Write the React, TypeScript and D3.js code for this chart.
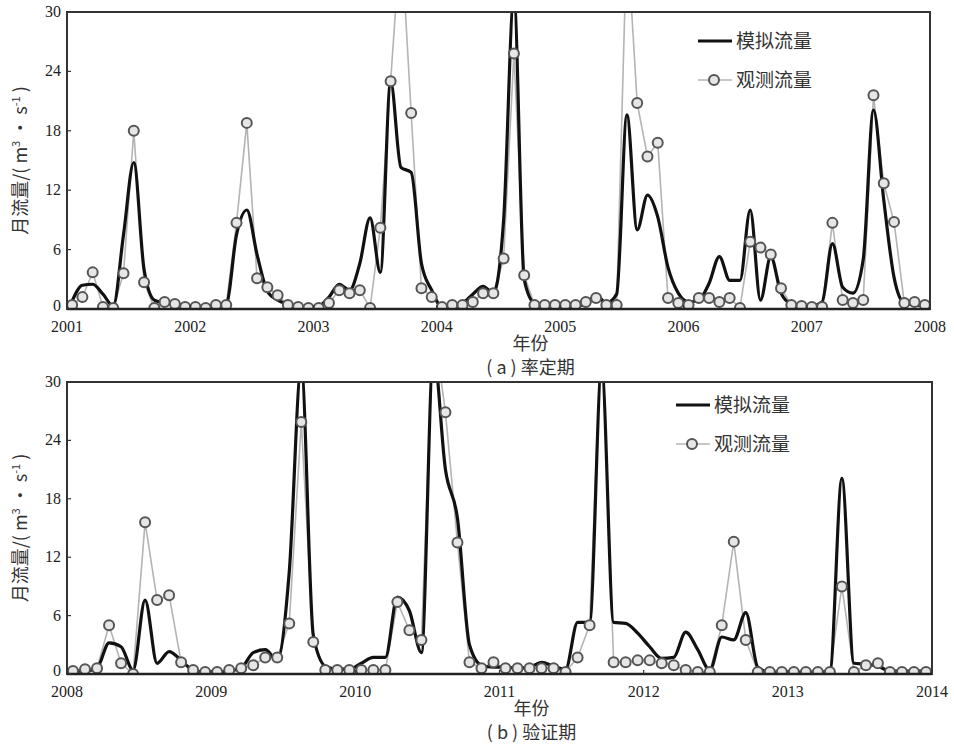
import React, { useEffect, useRef } from 'react';
import * as d3 from 'd3';

// y axis ticks shared by both panels
const yTicks = [0, 6, 12, 18, 24, 30];

// (a) calibration 2001-2007, monthly
const yearsA = [2001, 2002, 2003, 2004, 2005, 2006, 2007, 2008];
const simA = [
  0.8, 2.4, 2.5, 1.5, 0.3, 7.5, 14.8, 4.0, 0.9, 0.6, 0.5, 0.3,
  0.3, 0.2, 0.3, 0.5, 7.5, 10.0, 5.5, 1.8, 0.9, 0.5, 0.3, 0.2,
  0.3, 1.2, 2.5, 1.9, 4.6, 9.2, 3.7, 23.0, 14.3, 13.8, 4.6, 1.9,
  0.2, 0.4, 0.6, 1.5, 2.3, 1.6, 9.0, 31.5, 3.0, 0.6, 0.4, 0.3,
  0.3, 0.3, 0.5, 1.4, 0.6, 1.5, 19.6, 8.0, 11.5, 9.3, 4.2, 1.6,
  0.7, 0.9, 2.6, 5.3, 2.9, 2.9, 10.0, 0.9, 5.3, 1.6, 0.5, 0.3,
  0.3, 0.7, 6.6, 2.2, 1.6, 5.0, 20.1, 11.0, 3.2, 0.6, 0.4, 0.3,
];
const obsA = [
  0.4, 1.2, 3.7, 0.2, 0.1, 3.6, 18.0, 2.7, 0.1, 0.7, 0.5, 0.2,
  0.2, 0.1, 0.4, 0.4, 8.7, 18.8, 3.1, 2.2, 1.4, 0.4, 0.2, 0.1,
  0.1, 0.6, 1.9, 1.6, 1.9, 0.1, 8.2, 23.0, 38.0, 19.8, 2.1, 1.2,
  0.2, 0.4, 0.4, 0.7, 1.6, 1.6, 5.1, 25.8, 3.4, 0.4, 0.4, 0.4,
  0.4, 0.4, 0.7, 1.1, 0.4, 0.4, 38.0, 20.8, 15.4, 16.8, 1.1, 0.6,
  0.4, 1.1, 1.1, 0.7, 1.1, 0.1, 6.8, 6.2, 5.5, 2.1, 0.4, 0.3,
  0.2, 0.2, 8.7, 0.9, 0.6, 0.9, 21.6, 12.7, 8.8, 0.6, 0.7, 0.4,
];

// (b) validation 2008-2013, monthly
const yearsB = [2008, 2009, 2010, 2011, 2012, 2013, 2014];
const simB = [
  0.3, 0.3, 0.6, 3.2, 2.8, 0.4, 7.6, 1.1, 2.3, 1.4, 0.4, 0.2,
  0.2, 0.3, 0.6, 2.2, 2.5, 1.4, 10.5, 31.5, 4.0, 0.8, 0.5, 0.5,
  1.1, 1.7, 1.7, 7.9, 6.5, 2.2, 33.0, 21.0, 16.0, 3.0, 0.9, 0.7,
  0.7, 0.6, 0.7, 1.2, 0.8, 0.5, 5.3, 5.3, 31.5, 5.3, 5.2, 4.2,
  2.8, 1.6, 1.7, 4.3, 2.5, 0.4, 3.8, 3.5, 6.3, 0.7, 0.2, 0.2,
  0.2, 0.2, 0.2, 0.3, 20.1, 1.1, 1.0, 0.8, 0.3, 0.3, 0.3, 0.3,
];
const obsB = [
  0.3, 0.5, 0.6, 5.0, 1.1, 0.0, 15.6, 7.6, 8.1, 1.2, 0.4, 0.2,
  0.2, 0.4, 0.6, 0.9, 1.7, 1.7, 5.2, 25.9, 3.3, 0.4, 0.4, 0.4,
  0.4, 0.4, 0.4, 7.4, 4.5, 3.5, 36.0, 26.9, 13.5, 1.2, 0.6, 1.2,
  0.6, 0.6, 0.6, 0.6, 0.6, 0.2, 1.7, 5.0, 36.0, 1.2, 1.2, 1.4,
  1.4, 1.1, 0.9, 0.4, 0.2, 0.2, 5.0, 13.6, 3.5, 0.2, 0.2, 0.2,
  0.2, 0.2, 0.2, 0.2, 9.0, 0.2, 0.9, 1.1, 0.2, 0.2, 0.2, 0.2,
];

const simLabel = '模拟流量';
const obsLabel = '观测流量';
const xTitle = '年份';

const serif = '"Liberation Serif", "DejaVu Serif", serif';
const cjk = '"Noto Sans CJK SC", sans-serif';

interface PanelOpts {
  id: string;
  years: number[];
  sim: number[];
  obs: number[];
  left: number;
  right: number;
  top: number;
  bottom: number;
  legendX: number;
  legendY: number;
  caption: string;
}

function drawPanel(svg: d3.Selection<SVGSVGElement, unknown, null, undefined>, o: PanelOpts) {
  const x = d3.scaleLinear().domain([o.years[0], o.years[o.years.length - 1]]).range([o.left, o.right]);
  const y = d3.scaleLinear().domain([0, 30]).range([o.bottom, o.top]);
  const mx = (i: number) => x(o.years[0] + (i + 0.5) / 12);

  const g = svg.append('g');

  g.append('clipPath').attr('id', o.id)
    .append('rect')
    .attr('x', o.left).attr('y', o.top)
    .attr('width', o.right - o.left).attr('height', o.bottom - o.top);

  const plot = g.append('g').attr('clip-path', `url(#${o.id})`);

  // observed: thin grey polyline
  const obsLine = d3.line<number>().x((_, i) => mx(i)).y(d => y(d));
  plot.append('path')
    .attr('d', obsLine(o.obs))
    .attr('fill', 'none')
    .attr('stroke', '#b4b4b4')
    .attr('stroke-width', 1.6);

  // simulated: thick black smooth curve
  const simLine = d3.line<number>().x((_, i) => mx(i)).y(d => y(d)).curve(d3.curveMonotoneX);
  plot.append('path')
    .attr('d', simLine(o.sim))
    .attr('fill', 'none')
    .attr('stroke', '#111')
    .attr('stroke-width', 3.2)
    .attr('stroke-linejoin', 'round');

  plot.selectAll('circle.obs')
    .data(o.obs)
    .enter().append('circle')
    .attr('class', 'obs')
    .attr('cx', (_, i) => mx(i))
    .attr('cy', d => y(d))
    .attr('r', 5)
    .attr('fill', '#e6e6e6')
    .attr('stroke', '#555')
    .attr('stroke-width', 2);

  // frame
  g.append('rect')
    .attr('x', o.left).attr('y', o.top)
    .attr('width', o.right - o.left).attr('height', o.bottom - o.top)
    .attr('fill', 'none')
    .attr('stroke', '#333')
    .attr('stroke-width', 2);
  g.append('line')
    .attr('x1', o.left).attr('x2', o.right)
    .attr('y1', o.bottom).attr('y2', o.bottom)
    .attr('stroke', '#222').attr('stroke-width', 2.5);

  // y ticks
  yTicks.forEach(t => {
    g.append('line')
      .attr('x1', o.left).attr('x2', o.left + 4)
      .attr('y1', y(t)).attr('y2', y(t))
      .attr('stroke', '#333').attr('stroke-width', 1.2);
    g.append('text')
      .attr('x', o.left - 6).attr('y', y(t) + (t === 0 ? 2 : 5))
      .attr('text-anchor', 'end')
      .attr('font-family', serif).attr('font-size', 16)
      .attr('fill', '#222')
      .text(t);
  });

  // x ticks
  o.years.forEach(yr => {
    g.append('line')
      .attr('x1', x(yr)).attr('x2', x(yr))
      .attr('y1', o.bottom).attr('y2', o.bottom - 4)
      .attr('stroke', '#333').attr('stroke-width', 1.2);
    g.append('text')
      .attr('x', x(yr)).attr('y', o.bottom + 23)
      .attr('text-anchor', 'middle')
      .attr('font-family', serif).attr('font-size', 16)
      .attr('fill', '#222')
      .text(yr);
  });

  const cx = (o.left + o.right) / 2 + 32;
  g.append('text')
    .attr('x', cx).attr('y', o.bottom + 41)
    .attr('text-anchor', 'middle')
    .attr('font-family', cjk).attr('font-size', 18)
    .attr('fill', '#333')
    .text(xTitle);
  g.append('text')
    .attr('x', cx).attr('y', o.bottom + 65)
    .attr('text-anchor', 'middle')
    .attr('font-family', cjk).attr('font-size', 18)
    .attr('fill', '#333')
    .text(o.caption);

  // y title with real superscripts
  const ymid = (o.top + o.bottom) / 2;
  const yt = g.append('text')
    .attr('transform', `translate(${o.left - 40},${ymid}) rotate(-90)`)
    .attr('text-anchor', 'middle')
    .attr('font-family', cjk).attr('font-size', 18)
    .attr('fill', '#333');
  yt.append('tspan').text('月流量/( m');
  yt.append('tspan').attr('dy', -7).attr('font-size', 11).text('3');
  yt.append('tspan').attr('dy', 7).text(' · s');
  yt.append('tspan').attr('dy', -7).attr('font-size', 11).text('-1');
  yt.append('tspan').attr('dy', 7).text(' )');

  // legend
  const lx = o.legendX, ly = o.legendY;
  g.append('line')
    .attr('x1', lx).attr('x2', lx + 34)
    .attr('y1', ly).attr('y2', ly)
    .attr('stroke', '#111').attr('stroke-width', 3.2);
  g.append('text')
    .attr('x', lx + 38).attr('y', ly + 7)
    .attr('font-family', cjk).attr('font-size', 19)
    .attr('fill', '#333')
    .text(simLabel);
  g.append('line')
    .attr('x1', lx).attr('x2', lx + 34)
    .attr('y1', ly + 39).attr('y2', ly + 39)
    .attr('stroke', '#b4b4b4').attr('stroke-width', 1.6);
  g.append('circle')
    .attr('cx', lx + 16).attr('cy', ly + 39).attr('r', 5)
    .attr('fill', '#e6e6e6').attr('stroke', '#555').attr('stroke-width', 2);
  g.append('text')
    .attr('x', lx + 38).attr('y', ly + 46)
    .attr('font-family', cjk).attr('font-size', 19)
    .attr('fill', '#333')
    .text(obsLabel);
}

const App: React.FC = () => {
  const ref = useRef<SVGSVGElement>(null);

  useEffect(() => {
    const svg = d3.select(ref.current!);
    svg.selectAll('*').remove();

    drawPanel(svg, {
      id: 'clipA', years: yearsA, sim: simA, obs: obsA,
      left: 67, right: 930, top: 12, bottom: 309,
      legendX: 698, legendY: 41, caption: '( a ) 率定期',
    });
    drawPanel(svg, {
      id: 'clipB', years: yearsB, sim: simB, obs: obsB,
      left: 67, right: 932, top: 382, bottom: 674,
      legendX: 676, legendY: 405, caption: '( b ) 验证期',
    });
  }, []);

  return (
    <svg ref={ref} width={954} height={747}
      style={{ position: 'absolute', left: 0, top: 0, background: '#fff' }} />
  );
};

export default App;
